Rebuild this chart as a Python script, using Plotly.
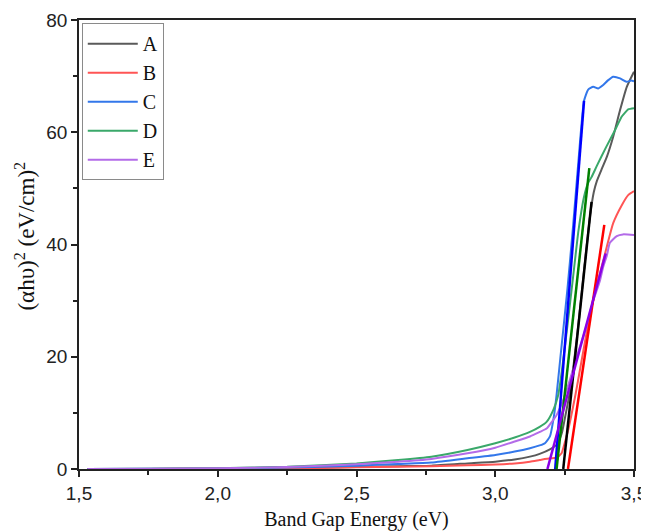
import plotly.graph_objects as go

# ---- data ----
series_names = ["A", "B", "C", "D", "E"]

A_x = [1.53, 1.75, 2.0, 2.25, 2.5, 2.65, 2.77, 2.9, 3.0, 3.07, 3.125, 3.16, 3.197, 3.224, 3.24, 3.252, 3.27, 3.30, 3.32, 3.34, 3.355, 3.366, 3.385, 3.402, 3.425, 3.45, 3.474, 3.5]
A_y = [0.0, 0.02, 0.06, 0.15, 0.35, 0.5, 0.6, 1.0, 1.3, 1.7, 2.2, 2.7, 3.5, 4.5, 6.4, 9.3, 14.0, 26.0, 35.5, 44.5, 49.3, 51.3, 53.6, 55.6, 59.2, 64.0, 68.1, 70.8]

B_x = [1.53, 1.75, 2.0, 2.25, 2.5, 2.65, 2.77, 2.9, 3.0, 3.07, 3.125, 3.16, 3.197, 3.221, 3.239, 3.25, 3.263, 3.29, 3.305, 3.33, 3.355, 3.377, 3.402, 3.425, 3.456, 3.479, 3.5]
B_y = [0.0, 0.01, 0.04, 0.1, 0.3, 0.4, 0.5, 0.65, 0.8, 1.0, 1.3, 1.6, 1.9, 2.0, 2.8, 4.6, 7.0, 13.5, 17.6, 24.5, 30.5, 34.8, 39.6, 43.8, 47.0, 48.8, 49.5]

C_x = [1.53, 1.75, 2.0, 2.25, 2.5, 2.65, 2.77, 2.9, 3.0, 3.07, 3.125, 3.16, 3.179, 3.197, 3.212, 3.221, 3.235, 3.26, 3.28, 3.30, 3.32, 3.335, 3.353, 3.371, 3.389, 3.405, 3.425, 3.45, 3.473, 3.49, 3.5]
C_y = [0.01, 0.03, 0.1, 0.25, 0.6, 0.9, 1.15, 1.9, 2.5, 3.1, 3.7, 4.2, 4.6, 5.8, 9.6, 13.2, 20.0, 32.0, 43.0, 55.0, 65.6, 67.6, 68.1, 67.8, 68.4, 69.2, 69.9, 69.6, 69.0, 69.2, 69.1]

D_x = [1.53, 1.75, 2.0, 2.25, 2.5, 2.65, 2.77, 2.9, 3.0, 3.07, 3.125, 3.16, 3.185, 3.209, 3.227, 3.24, 3.26, 3.28, 3.30, 3.32, 3.335, 3.347, 3.366, 3.40, 3.432, 3.456, 3.48, 3.5]
D_y = [0.02, 0.06, 0.15, 0.4, 1.0, 1.6, 2.2, 3.4, 4.6, 5.6, 6.6, 7.5, 8.4, 10.5, 13.2, 17.5, 25.5, 34.0, 42.5, 48.5, 51.0, 52.0, 54.0, 57.4, 60.4, 62.8, 64.1, 64.3]

E_x = [1.53, 1.75, 2.0, 2.25, 2.5, 2.65, 2.77, 2.9, 3.0, 3.07, 3.125, 3.16, 3.185, 3.204, 3.221, 3.245, 3.269, 3.30, 3.329, 3.35, 3.377, 3.389, 3.402, 3.413, 3.438, 3.46, 3.5]
E_y = [0.02, 0.05, 0.13, 0.35, 0.85, 1.3, 1.8, 2.8, 3.8, 4.9, 5.8, 6.6, 7.2, 8.4, 9.6, 12.3, 15.9, 21.0, 25.5, 29.5, 33.5, 36.0, 38.0, 40.3, 41.5, 41.8, 41.7]

# Tauc tangent lines (start at x-intercept, end at top point)
tangent_x0 = [3.245, 3.262, 3.216, 3.221, 3.188]
tangent_x1 = [3.347, 3.393, 3.320, 3.339, 3.398]
tangent_y1 = [47.6, 43.5, 65.6, 53.6, 38.4]

x_tickvals = [1.5, 2.0, 2.5, 3.0, 3.5]
x_ticktext = ["1,5", "2,0", "2,5", "3,0", "3,5"]
y_tickvals = [0, 20, 40, 60, 80]
x_title = "Band Gap Energy (eV)"
y_title = "(αhυ)<sup>2</sup> (eV/cm)<sup>2</sup>"

# ---- styles ----
curve_colors = ["#5a5a5a", "#ff5555", "#3377ea", "#3aa86a", "#b36be8"]
tangent_colors = ["#000000", "#ff0000", "#0000ff", "#008000", "#8a00e6"]

xs = [A_x, B_x, C_x, D_x, E_x]
ys = [A_y, B_y, C_y, D_y, E_y]

fig = go.Figure()
for name, x, y, c in zip(series_names, xs, ys, curve_colors):
    fig.add_trace(go.Scatter(x=x, y=y, mode="lines", name=name,
                             line=dict(color=c, width=2, shape="spline", smoothing=0.5)))

for x0, x1, y1, c in zip(tangent_x0, tangent_x1, tangent_y1, tangent_colors):
    fig.add_trace(go.Scatter(x=[x0, x1], y=[0, y1], mode="lines", showlegend=False,
                             line=dict(color=c, width=2.5), hoverinfo="skip"))

serif = "Liberation Serif, Times New Roman, serif"
sans = "Liberation Sans, Arial, sans-serif"

# page body has an 8px default margin, so the figure is sized to fit the window
fig.update_layout(
    width=641, height=523,
    margin=dict(l=71, r=15, t=12, b=62),
    paper_bgcolor="white", plot_bgcolor="white",
    showlegend=True,
    legend=dict(x=0.005, y=0.993, xanchor="left", yanchor="top",
                bgcolor="white", bordercolor="#8a8a8a", borderwidth=1,
                font=dict(family=serif, size=20, color="#111"),
                tracegroupgap=0, itemwidth=50),
    xaxis=dict(range=[1.5, 3.5], tickvals=x_tickvals, ticktext=x_ticktext,
               automargin=False,
               showline=True, linecolor="#222", linewidth=1.5, mirror=True,
               ticks="outside", ticklen=6, tickwidth=1.5, tickcolor="#222",
               showgrid=False, zeroline=False,
               minor=dict(ticks="outside", ticklen=4, tickwidth=1.5, tickcolor="#222", tick0=1.5, dtick=0.25),
               tickfont=dict(family=sans, size=19, color="#222"),
               title=dict(text=x_title, font=dict(family=serif, size=20, color="#111"))),
    yaxis=dict(range=[0, 80], tickvals=y_tickvals,
               automargin=False,
               showline=True, linecolor="#222", linewidth=1.5, mirror=True,
               ticks="outside", ticklen=6, tickwidth=1.5, tickcolor="#222",
               showgrid=False, zeroline=False,
               minor=dict(ticks="outside", ticklen=4, tickwidth=1.5, tickcolor="#222", tick0=0, dtick=10),
               tickfont=dict(family=sans, size=19, color="#222")),
    annotations=[dict(text=y_title, xref="paper", yref="paper", x=-0.097, y=0.518,
                      xanchor="center", yanchor="middle", textangle=-90, showarrow=False,
                      font=dict(family=serif, size=23, color="#111"))],
)

fig.write_html("out.html")
